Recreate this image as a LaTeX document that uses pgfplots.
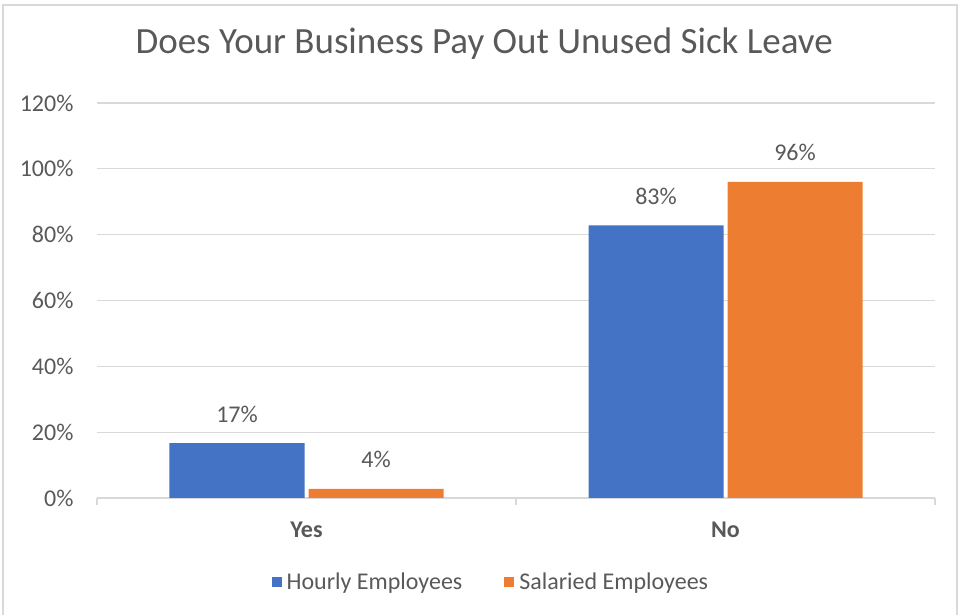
\documentclass[border=0pt]{standalone}
\usepackage{fontspec}
\setmainfont{Carlito}
\usepackage{pgfplots}
\pgfplotsset{compat=1.18}
\definecolor{hourly}{HTML}{4472C4}
\definecolor{salaried}{HTML}{ED7D31}
\definecolor{gridc}{HTML}{D9D9D9}
\definecolor{txt}{HTML}{595959}
\begin{document}
\begin{tikzpicture}[x=1pt,y=1pt]
\path[use as bounding box] (-97,-117) rectangle (864,498);
\draw[gridc, line width=1.2pt] (-94,-130) rectangle (860,493);
\begin{axis}[
  at={(0,0)}, anchor=south west,
  scale only axis, width=838pt, height=395pt,
  xmin=-0.5, xmax=1.5, ymin=0, ymax=120,
  ybar=4pt, bar width=135pt,
  axis line style={draw=none},
  ymajorgrids, grid style={gridc, line width=1.2pt},
  ytick={0,20,40,60,80,100,120},
  yticklabels={0\%,20\%,40\%,60\%,80\%,100\%,120\%},
  xtick={0,1}, xticklabels={Yes,No},
  xtick pos=bottom, ytick pos=left,
  major tick length=0pt,
  extra x ticks={-0.5,0.5,1.5}, extra x tick labels={},
  extra x tick style={major tick length=7pt, tick align=outside, grid=none,
    xtick pos=bottom, tick style={gridc, line width=1.2pt}},
  x tick label style={font=\fontsize{24}{28}\selectfont\bfseries, text=txt, yshift=-20pt},
  y tick label style={font=\fontsize{24}{28}\selectfont, text=txt, xshift=-20pt},
  title={Does Your Business Pay Out Unused Sick Leave},
  title style={at={(0.462,1)}, anchor=center, yshift=53pt,
    font=\fontsize{37}{42}\selectfont, text=txt},
  point meta=explicit symbolic,
  nodes near coords,
  nodes near coords style={font=\fontsize{24}{28}\selectfont, text=txt,
    anchor=base, inner sep=0pt, yshift=21pt},
  legend columns=2,
  legend style={at={(0.47,-0.213)}, anchor=center, draw=none, fill=none,
    font=\fontsize{24}{28}\selectfont, text=txt,
    /tikz/every even column/.append style={column sep=40pt}},
  legend image code/.code={\fill[#1] (0pt,-5pt) rectangle (10pt,5pt);
    \path (13pt,0pt);},
]
\addplot[fill=hourly, draw=none] coordinates {(0,16.7) [17\%] (1,82.8) [83\%]};
\addplot[fill=salaried, draw=none] coordinates {(0,2.8) [4\%] (1,96.0) [96\%]};
\legend{Hourly Employees, Salaried Employees}
\end{axis}
\end{tikzpicture}
\end{document}
